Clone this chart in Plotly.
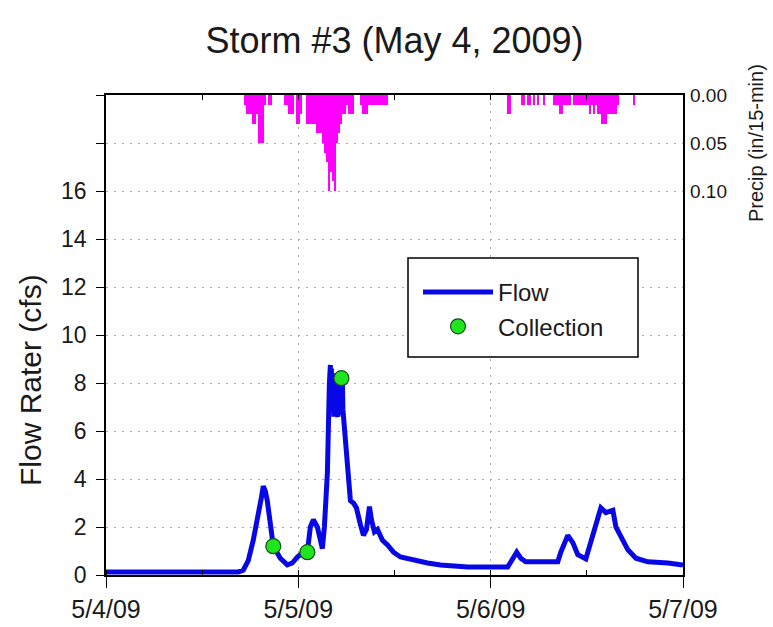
import pandas as pd
import plotly.graph_objects as go

# ---------------- data ----------------
start = pd.Timestamp("2009-05-04 00:00")

# flow record: hours after 5/4/09 00:00 and flow rate (cfs)
flow_hours = [0, 5.5, 8, 8.625, 11.75, 14.25, 16.5, 17.125, 17.75, 18.375, 19, 19.375, 19.625,
              19.875, 20.125, 20.5, 20.875, 21.75, 22.625, 23.25, 23.875, 24.625, 25.125, 25.5,
              25.875, 26.375, 26.75, 27, 27.25, 27.625, 27.875,
              28.0, 28.0625, 28.125, 28.1875, 28.25, 28.3125, 28.375, 28.4375, 28.5, 28.5625,
              28.625, 28.6875, 28.75, 28.8125, 28.875, 28.9375, 29.0, 29.0625, 29.125, 29.1875,
              29.25, 29.3125, 29.375, 29.4375, 29.5, 29.5625, 29.625,
              29.875, 30.125, 30.5,
              30.875, 31.25, 31.75, 32.125, 32.5, 32.75, 32.875, 33.125, 33.5, 33.875, 34.5,
              35.125, 35.875, 36.75, 38.375, 40.125, 41.75, 45.125, 50.125, 50.75, 51.25, 51.75,
              52.375, 54.25, 56.375, 56.75, 57.625, 58.25, 58.875, 59.875, 60.5, 61.125, 61.75,
              62.375, 63.25, 63.625, 64.25, 65.125, 66.125, 67.625, 70.125, 72]
flow_cfs = [0.12, 0.12, 0.15, 0.12, 0.13, 0.12, 0.13, 0.2, 0.6, 1.45, 2.4, 3.2, 3.7,
            3.5, 3.1, 2.0, 1.2, 0.7, 0.42, 0.5, 0.75, 0.95, 0.95, 2.0,
            2.3, 2.0, 1.35, 1.1, 2.0, 4.25, 8.0,
            8.75, 7.4, 8.6, 7.0, 8.4, 6.8, 8.3, 6.6, 8.2, 6.6, 8.0,
            6.6, 8.4, 6.7, 8.1, 6.6, 8.3, 6.8, 8.0, 6.7, 8.2,
            6.9, 8.2, 6.8, 8.1, 6.9, 6.6,
            5.6, 4.25, 3.1,
            3.0, 2.8, 2.1, 1.65, 1.9, 2.5, 2.85, 2.3, 1.8, 1.9, 1.45,
            1.25, 0.95, 0.75, 0.62, 0.5, 0.42, 0.33, 0.33, 0.7, 0.95, 0.7,
            0.55, 0.55, 0.55, 0.95, 1.65, 1.35, 0.85, 0.67, 1.35, 2.15, 2.8,
            2.6, 2.7, 2.0, 1.6, 1.05, 0.7, 0.55, 0.5, 0.42]

# sample collections
collect_hours = [20.875, 25.125, 29.375]
collect_cfs = [1.2, 0.95, 8.2]

# precipitation: start of 15-min interval (hours after 5/4/09 00:00) and depth (in)
precip_hours = [17.25, 17.5, 17.75, 18.0, 18.25, 18.5, 18.75, 19.0, 19.25, 19.5, 19.75,
                20.25, 20.5, 22.25, 22.5, 22.75, 23.0, 23.25, 23.75, 24.0, 24.25,
                25.0, 25.25, 25.5, 25.75, 26.0, 26.25, 26.5, 26.75, 27.0, 27.25, 27.5,
                27.75, 28.0, 28.25, 28.5, 28.75, 29.0, 29.25, 29.5, 29.75, 30.0, 30.25,
                30.5, 30.75, 31.75, 32.0, 32.25, 32.5, 32.75, 33.0, 33.25, 33.5, 33.75,
                34.0, 34.25, 34.5, 34.75, 35.0,
                50.0, 50.25, 51.75, 52.0, 52.5, 52.75, 53.25, 53.75, 54.5, 55.75, 56.0,
                56.25, 56.5, 56.75, 57.0, 57.25, 57.5, 57.75, 58.25, 58.5, 58.75, 59.0,
                59.25, 59.5, 59.75, 60.0, 60.25, 60.5, 60.75, 61.0, 61.25, 61.5, 61.75,
                62.0, 62.25, 62.5, 62.75, 63.0, 63.25, 63.5, 63.75, 65.75]
precip_in = [0.01, 0.02, 0.02, 0.02, 0.03, 0.03, 0.02, 0.05, 0.05, 0.05, 0.01,
             0.01, 0.01, 0.01, 0.01, 0.02, 0.02, 0.02, 0.03, 0.03, 0.02,
             0.03, 0.03, 0.03, 0.03, 0.03, 0.04, 0.04, 0.04, 0.05, 0.06, 0.07,
             0.10, 0.08, 0.09, 0.10, 0.05, 0.04, 0.03, 0.02, 0.02, 0.01, 0.02,
             0.02, 0.02, 0.01, 0.02, 0.02, 0.02, 0.01, 0.01, 0.01, 0.01, 0.01,
             0.01, 0.01, 0.01, 0.01, 0.01,
             0.02, 0.02, 0.01, 0.01, 0.01, 0.01, 0.01, 0.01, 0.01, 0.01, 0.01,
             0.01, 0.02, 0.02, 0.01, 0.01, 0.01, 0.01, 0.01, 0.01, 0.01, 0.01,
             0.01, 0.01, 0.01, 0.01, 0.02, 0.01, 0.02, 0.01, 0.02, 0.02, 0.03,
             0.03, 0.03, 0.02, 0.02, 0.02, 0.02, 0.02, 0.01, 0.01]

x_tick_dates = ["2009-05-04", "2009-05-05", "2009-05-06", "2009-05-07"]
x_tick_text = ["5/4/09", "5/5/09", "5/6/09", "5/7/09"]
y_tick_vals = [0, 2, 4, 6, 8, 10, 12, 14, 16, 18, 20]
y_tick_text = ["0", "2", "4", "6", "8", "10", "12", "14", "16", "", ""]
p_tick_vals = [0.0, 0.05, 0.10]
p_tick_text = ["0.00", "0.05", "0.10"]

# ---------------- figure ----------------
def to_time(hours):
    return [start + pd.Timedelta(hours=h) for h in hours]

FONT = "Liberation Sans, Arial, sans-serif"
TXT = "#1a1a1a"
fig = go.Figure()

fig.add_trace(go.Bar(
    x=to_time(precip_hours), y=precip_in, width=15 * 60 * 1000, offset=0,
    marker=dict(color="#ff00ff", line=dict(width=0)),
    xaxis="x2", yaxis="y2", showlegend=False, name="Precip"))

fig.add_trace(go.Scatter(
    x=to_time(flow_hours), y=flow_cfs, mode="lines", name="Flow",
    line=dict(color="#0808e6", width=5)))

fig.add_trace(go.Scatter(
    x=to_time(collect_hours), y=collect_cfs, mode="markers", name="Collection",
    marker=dict(color="#1ee61e", size=15, line=dict(color="#1a4a1a", width=1.2))))

xr = ["2009-05-04 00:00", "2009-05-07 00:00"]
grid = dict(gridcolor="#a8a8a8", griddash="2px,6px", gridwidth=1)

fig.update_layout(
    width=773, height=627,
    margin=dict(l=106, r=90, t=95, b=52),
    paper_bgcolor="white", plot_bgcolor="white",
    font=dict(family=FONT, color=TXT),
    bargap=0,
    title=dict(text="Storm #3 (May 4, 2009)", x=0.5, xref="paper", xanchor="center",
               y=1 - 40 / 627, yref="container", yanchor="middle",
               font=dict(size=36, family=FONT, color=TXT)),
    xaxis=dict(type="date", range=xr, tickmode="array", tickvals=x_tick_dates,
               ticktext=x_tick_text, ticks="outside", ticklen=11, tickcolor="black",
               tickfont=dict(size=25), showline=True, linecolor="black", linewidth=1.5,
               mirror=True, showgrid=True, zeroline=False, automargin=False,
               minor=dict(tickmode="linear", tick0="2009-05-04", dtick=12 * 3600 * 1000,
                          ticks="inside", ticklen=5, tickcolor="black", showgrid=False),
               **grid),
    xaxis2=dict(type="date", range=xr, overlaying="x", side="top", anchor="y2",
                tickmode="linear", tick0="2009-05-04", dtick=12 * 3600 * 1000,
                ticks="inside", ticklen=5, tickcolor="black", showticklabels=False,
                showgrid=False, showline=False, zeroline=False, automargin=False),
    yaxis=dict(range=[0, 20], tickmode="array", tickvals=y_tick_vals, ticktext=y_tick_text,
               ticks="outside", ticklen=8, tickcolor="black", tickfont=dict(size=23),
               showline=True, linecolor="black", linewidth=1.5, mirror=True,
               showgrid=True, zeroline=False, ticklabelstandoff=5, automargin=False, **grid),
    yaxis2=dict(range=[0.5, 0], overlaying="y", side="right", anchor="x2",
                tickmode="array", tickvals=p_tick_vals, ticktext=p_tick_text,
                ticks="", tickfont=dict(size=19), showgrid=False, showline=False,
                zeroline=False, ticklabelstandoff=6, automargin=False),
    legend=dict(x=(418 - 106) / 577, y=(575 - 270) / 480, xanchor="left", yanchor="top",
                bgcolor="rgba(0,0,0,0)", borderwidth=0, font=dict(size=24, family=FONT),
                itemwidth=70, tracegroupgap=2),
    shapes=[dict(type="rect", xref="paper", yref="paper",
                 x0=(408 - 106) / 577, x1=(638 - 106) / 577,
                 y0=(575 - 357) / 480, y1=(575 - 258) / 480,
                 line=dict(color="black", width=1.5), fillcolor="white", layer="above")],
    annotations=[
        dict(text="Flow Rater (cfs)", xref="paper", yref="paper",
             x=-(106 - 30) / 577, y=(575 - 380) / 480, textangle=-90,
             xanchor="center", yanchor="middle", showarrow=False,
             font=dict(size=30, family=FONT, color=TXT)),
        dict(text="Precip (in/15-min)", xref="paper", yref="paper",
             x=1 + (756 - 683) / 577, y=(575 - 143) / 480, textangle=-90,
             xanchor="center", yanchor="middle", showarrow=False,
             font=dict(size=20, family=FONT, color=TXT)),
    ],
)

fig.write_html("out.html")
